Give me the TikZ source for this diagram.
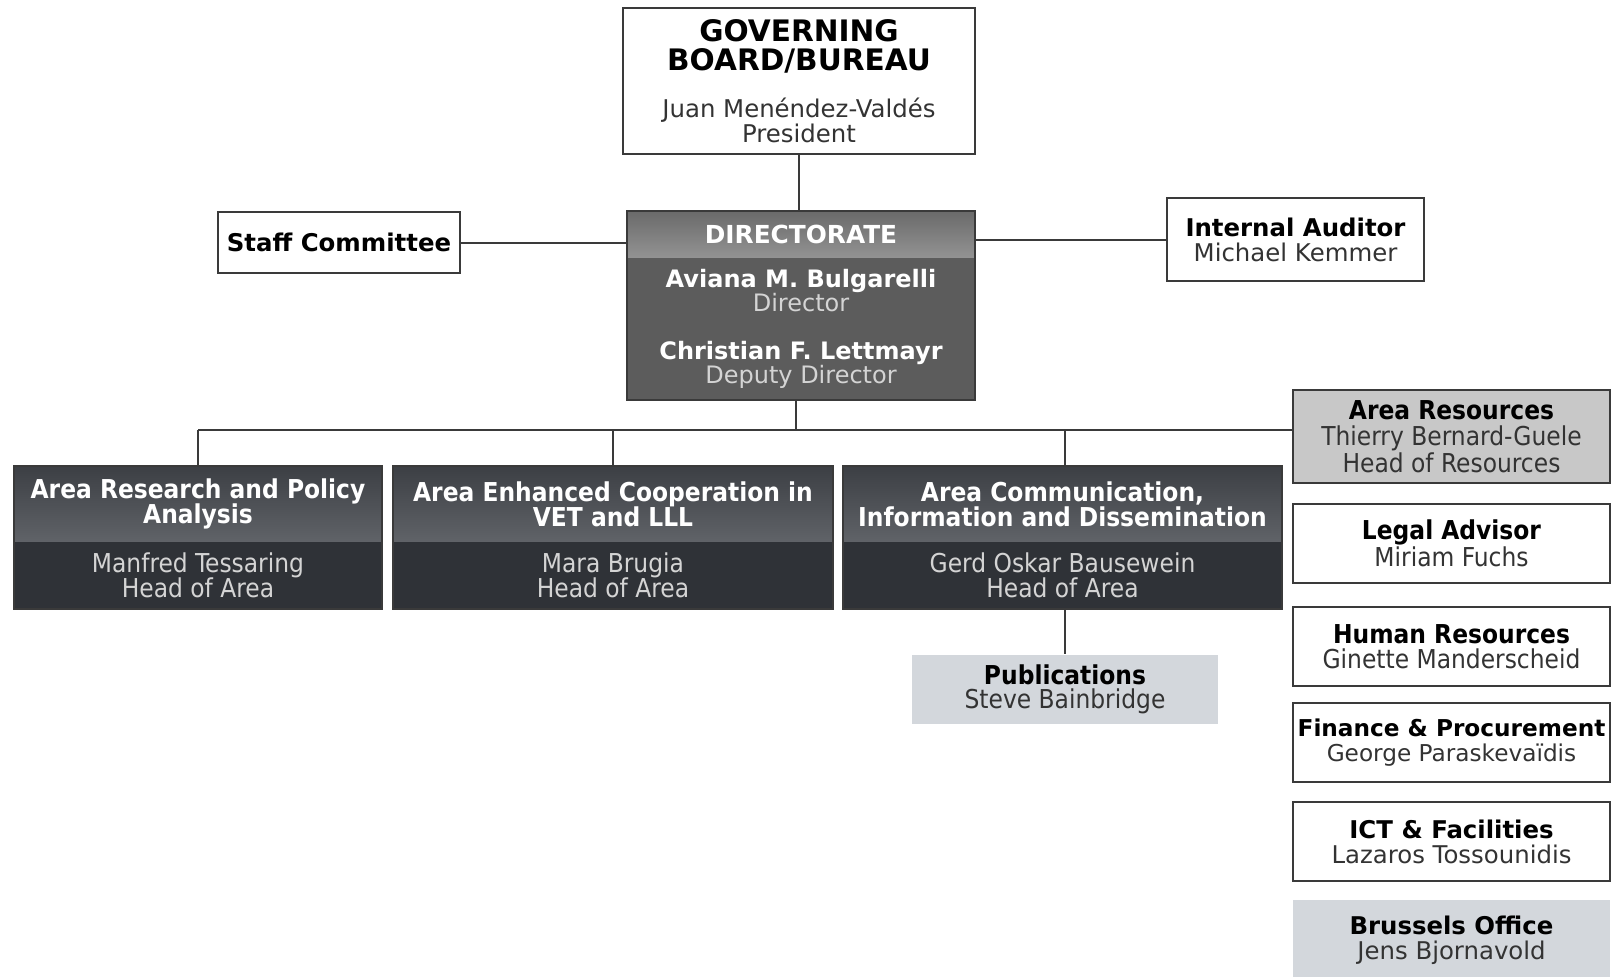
\documentclass[tikz,border=0pt]{standalone}
\usepackage{fontspec}
\setmainfont{DejaVu Sans}
\newfontfamily\condfont{DejaVu Sans Condensed}
\newcommand\tightlines{\lineskiplimit=-6pt\relax}
\definecolor{edgegray}{HTML}{3A3A3A}
\definecolor{namegray}{HTML}{333333}
\definecolor{dirbodyfill}{HTML}{5C5C5C}
\definecolor{dirtop}{HTML}{6A6A6A}
\definecolor{dirbot}{HTML}{939393}
\definecolor{areabodyfill}{HTML}{2F3237}
\definecolor{areatop}{HTML}{3C3F44}
\definecolor{areabot}{HTML}{606368}
\definecolor{resfill}{HTML}{C8C8C8}
\definecolor{officefill}{HTML}{D3D7DC}
\definecolor{paletext}{HTML}{D4D4D4}

\begin{document}
\begin{tikzpicture}[x=0.5pt, y=-0.5pt,
  box/.style={draw=edgegray, line width=1pt, fill=white, inner sep=0pt, align=center,
    text=namegray, font=\fontsize{12.2}{12.4}\selectfont},
  frame/.style={draw=edgegray, line width=1pt, inner sep=0pt},
  dirheadbox/.style={inner sep=0pt, top color=dirtop, bottom color=dirbot, text=white,
    font=\fontsize{12.4}{12.4}\selectfont\bfseries},
  dirbodybox/.style={inner sep=0pt, fill=dirbodyfill, align=center, text=white,
    font=\fontsize{12}{12}\selectfont},
  areaheadbox/.style={inner sep=0pt, top color=areatop, bottom color=areabot, text=white,
    align=center, font=\condfont\fontsize{13}{12.4}\selectfont\bfseries\tightlines},
  areabodybox/.style={inner sep=0pt, fill=areabodyfill, align=center, text=paletext,
    font=\condfont\fontsize{13}{12.4}\selectfont\tightlines},
  resbox/.style={box, fill=resfill, font=\condfont\fontsize{13}{13.2}\selectfont},
  unitbox/.style={box, font=\condfont\fontsize{13}{12.3}\selectfont},
  officebox/.style={box, draw=none, fill=officefill},
  link/.style={draw=edgegray, line width=1pt}]
\useasboundingbox (0,0) rectangle (1612,976);

% top of the chart
\node[box, minimum width=176pt, minimum height=73pt] (board) at (799,81)
  {{\color{black}\fontsize{14.8}{14.8}\selectfont\bfseries GOVERNING}\\[2.4pt]
   {\color{black}\fontsize{14.8}{14.8}\selectfont\bfseries BOARD/BUREAU}\\[11pt]
   Juan Menéndez-Valdés\\President};
\node[dirheadbox, minimum width=174pt, minimum height=23.5pt] (dirhead) at (801,234.5) {DIRECTORATE};
\node[dirbodybox, minimum width=174pt, minimum height=71pt] (dirbody) at (801,329)
  {\textbf{Aviana M. Bulgarelli}\\{\color{paletext}Director}\\[12pt]
   \textbf{Christian F. Lettmayr}\\{\color{paletext}Deputy Director}};
\node[frame, minimum width=174pt, minimum height=94.5pt] (directorate) at (801,305.5) {};

\node[box, minimum width=121pt, minimum height=30.5pt] (staff) at (339,242.5)
  {\color{black}\bfseries Staff Committee};
\node[box, minimum width=128.5pt, minimum height=41.5pt] (auditor) at (1295.5,239.5)
  {{\color{black}\bfseries Internal Auditor}\\Michael Kemmer};

% areas
\node[areaheadbox, minimum width=184pt, minimum height=38pt] (researchhead) at (198,504)
  {Area Research and Policy\\Analysis};
\node[areabodybox, minimum width=184pt, minimum height=33.5pt] (researchbody) at (198,575.5)
  {Manfred Tessaring\\Head of Area};
\node[frame, minimum width=184pt, minimum height=71.5pt] (research) at (198,537.5) {};

\node[areaheadbox, minimum width=220pt, minimum height=38pt] (vethead) at (613,504)
  {Area Enhanced Cooperation in\\VET and LLL};
\node[areabodybox, minimum width=220pt, minimum height=33.5pt] (vetbody) at (613,575.5)
  {Mara Brugia\\Head of Area};
\node[frame, minimum width=220pt, minimum height=71.5pt] (vet) at (613,537.5) {};

\node[areaheadbox, minimum width=219.5pt, minimum height=38pt] (commhead) at (1062.5,504)
  {Area Communication,\\Information and Dissemination};
\node[areabodybox, minimum width=219.5pt, minimum height=33.5pt] (commbody) at (1062.5,575.5)
  {Gerd Oskar Bausewein\\Head of Area};
\node[frame, minimum width=219.5pt, minimum height=71.5pt] (comm) at (1062.5,537.5) {};

\node[officebox, minimum width=153pt, minimum height=34.5pt,
  font=\condfont\fontsize{13}{12.3}\selectfont] (pub) at (1065,689.5)
  {{\color{black}\bfseries Publications}\\Steve Bainbridge};

% resources column
\node[resbox, minimum width=158.5pt, minimum height=46.5pt] (res) at (1451.5,436.5)
  {{\color{black}\bfseries Area Resources}\\Thierry Bernard-Guele\\Head of Resources};
\node[unitbox, minimum width=158.5pt, minimum height=39.5pt] (legal) at (1451.5,543.5)
  {{\color{black}\bfseries Legal Advisor}\\Miriam Fuchs};
\node[unitbox, minimum width=158.5pt, minimum height=39.5pt] (hr) at (1451.5,646.5)
  {{\color{black}\bfseries Human Resources}\\Ginette Manderscheid};
\node[box, minimum width=158.5pt, minimum height=39.5pt, font=\fontsize{11.6}{12.4}\selectfont]
  (finance) at (1451.5,742.5)
  {{\color{black}\bfseries Finance \& Procurement}\\George Paraskevaïdis};
\node[box, minimum width=158.5pt, minimum height=39.5pt] (ict) at (1451.5,841.5)
  {{\color{black}\bfseries ICT \& Facilities}\\Lazaros Tossounidis};
\node[officebox, minimum width=158.5pt, minimum height=40pt] (brussels) at (1451.5,940)
  {{\color{black}\bfseries Brussels Office}\\Jens Bjornavold};

% connectors
\coordinate (bus) at (796,430);
\draw[link] (board.south) -- (board.south |- directorate.north);
\draw[link] (staff.east) -- (staff.east -| directorate.west);
\draw[link] (auditor.west) -- (auditor.west -| directorate.east);
\draw[link] (directorate.south -| bus) -- (bus);
\draw[link] (bus -| research.north) -- (bus -| res.west);
\draw[link] (research.north) -- (research.north |- bus);
\draw[link] (vet.north) -- (vet.north |- bus);
\draw[link] (pub.north |- comm.north) -- (pub.north |- bus);
\draw[link] (pub.north |- comm.south) -- (pub.north);
\end{tikzpicture}
\end{document}
